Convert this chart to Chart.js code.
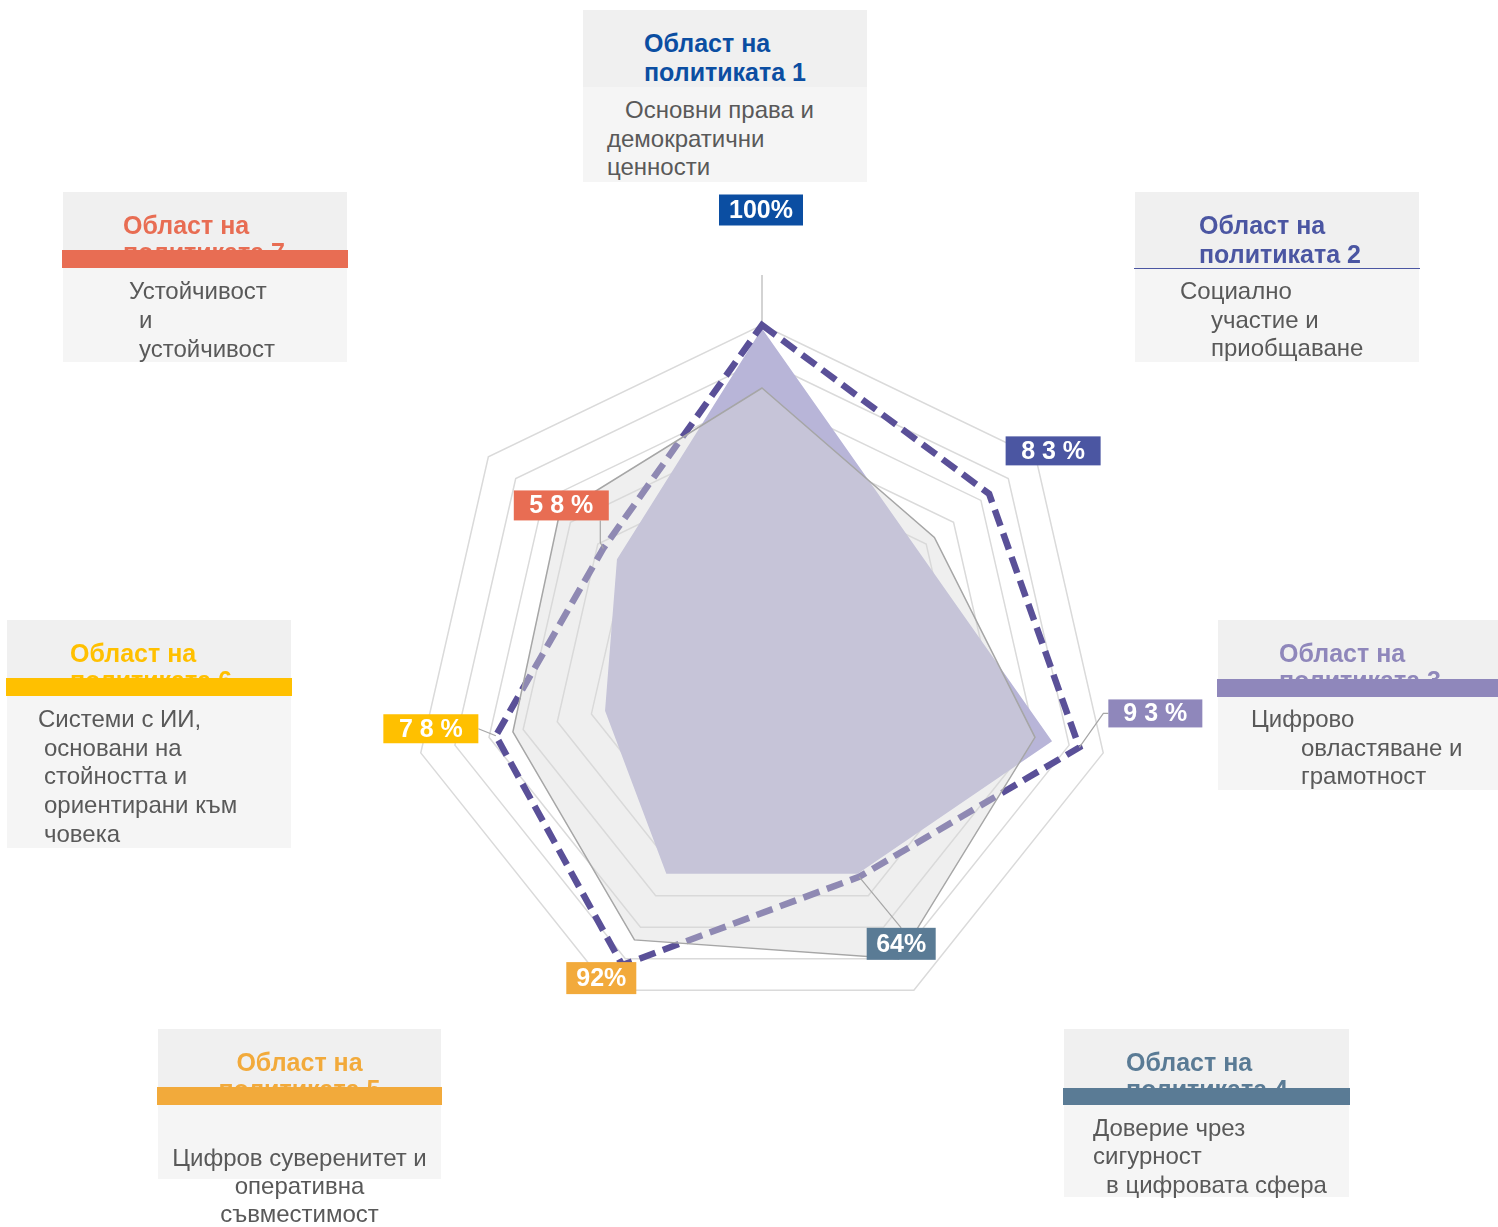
<!DOCTYPE html>
<html lang="bg">
<head>
<meta charset="utf-8">
<title>Области на политиката</title>
<script src="https://cdn.jsdelivr.net/npm/chart.js@4.4.1/dist/chart.umd.min.js"></script>
<style>
  html, body { margin: 0; padding: 0; background: #fff; }
  #page { position: relative; width: 1498px; height: 1227px; overflow: hidden;
          font-family: "Liberation Sans", Arial, sans-serif; }
  #chartWrap { position: absolute; left: 0; top: 0; width: 1498px; height: 1227px; }
  .card { position: absolute; }
  .card .head { position: absolute; left: 0; top: 0; width: 100%; background: #f0f0f0; }
  .card .body { position: absolute; left: 0; width: 100%; background: #f5f5f5; }
  .card .bar { position: absolute; left: -1px; right: -1px; }
  .t { position: absolute; white-space: nowrap; height: 29px; line-height: 29px; }
  .title { font-weight: bold; font-size: 25px; }
  .txt { font-size: 24px; color: #595959; }
</style>
</head>
<body>
<div id="page">
  <div id="chartWrap"><canvas id="radar"></canvas></div>
</div>
<script>
// categories (policy areas), clockwise from the top
const areaTitles = [
  ['Област на', 'политиката 1'],
  ['Област на', 'политиката 2'],
  ['Област на', 'политиката 3'],
  ['Област на', 'политиката 4'],
  ['Област на', 'политиката 5'],
  ['Област на', 'политиката 6'],
  ['Област на', 'политиката 7']
];
const areaTexts = [
  ['Основни права и', 'демократични', 'ценности'],
  ['Социално', 'участие и', 'приобщаване'],
  ['Цифрово', 'овластяване и', 'грамотност'],
  ['Доверие чрез', 'сигурност', 'в цифровата сфера'],
  ['Цифров суверенитет и', 'оперативна', 'съвместимост'],
  ['Системи с ИИ,', 'основани на', 'стойността и', 'ориентирани към', 'човека'],
  ['Устойчивост', 'и', 'устойчивост']
];

// series values (%)
const scores = [100, 83, 93, 64, 92, 78, 58];        // dashed line, labelled
const greySeries = [82, 63, 80, 90, 84, 73, 74];     // grey area
const lavenderSeries = [99, 57, 85, 63, 63, 46, 53]; // lavender area

const ringStep = 10;
const ringMax = 100;

// colours per area
const areaColors = ['#0b4ea2', '#4b56a2', '#8f87bb', '#5a7b95', '#f2aa3b', '#ffc000', '#e86d53'];

// ----- cards (HTML boxes around the chart) -----
// x,y,w = box; head = title strip height; bar = coloured strip height (1 = thin rule); body = body height
const cardLayout = [
  {x: 583, y: 10, w: 284, head: 77, bar: 0, body: 95, tx: 61, lines: [[42, 99], [24, 128], [24, 156]]},
  {x: 1135, y: 192, w: 284, head: 76, bar: 1, body: 93, tx: 64, lines: [[45, 98], [76, 127], [76, 155]]},
  {x: 1218, y: 620, w: 280, head: 59, bar: 18, body: 93, tx: 61, lines: [[33, 98], [83, 127], [83, 155]]},
  {x: 1064, y: 1029, w: 285, head: 59, bar: 17, body: 92, tx: 62, lines: [[29, 98], [29, 126], [42, 155]]},
  {x: 158, y: 1029, w: 283, head: 58, bar: 18, body: 74, tx: 'c', lines: [['c', 128], ['c', 156], ['c', 184]]},
  {x: 7, y: 620, w: 284, head: 58, bar: 18, body: 152, tx: 63, lines: [[31, 98], [37, 127], [37, 155], [37, 184], [37, 213]]},
  {x: 63, y: 192, w: 284, head: 58, bar: 18, body: 94, tx: 60, lines: [[66, 98], [76, 127], [76, 156]]}
];

const page = document.getElementById('page');
cardLayout.forEach((c, i) => {
  const card = document.createElement('div');
  card.className = 'card';
  card.style.cssText = `left:${c.x}px;top:${c.y}px;width:${c.w}px;height:${c.head + c.bar + c.body}px;`;
  const head = document.createElement('div');
  head.className = 'head';
  head.style.height = c.head + 'px';
  card.appendChild(head);
  const body = document.createElement('div');
  body.className = 'body';
  body.style.top = (c.head + c.bar) + 'px';
  body.style.height = c.body + 'px';
  card.appendChild(body);

  // thick bar hides most of the second title line
  const gap = c.bar > 1 ? 27 : 29;
  areaTitles[i].forEach((line, k) => {
    const t = document.createElement('div');
    t.className = 't title';
    t.textContent = line;
    t.style.color = areaColors[i];
    t.style.top = (33 + k * gap - 14.5) + 'px';
    if (c.tx === 'c') { t.style.left = '0'; t.style.width = '100%'; t.style.textAlign = 'center'; }
    else t.style.left = c.tx + 'px';
    card.appendChild(t);
  });
  if (c.bar > 0) {
    const bar = document.createElement('div');
    bar.className = 'bar';
    bar.style.top = c.head + 'px';
    bar.style.height = c.bar + 'px';
    bar.style.background = areaColors[i];
    card.appendChild(bar);
  }
  areaTexts[i].forEach((line, k) => {
    const [lx, cy] = c.lines[k];
    const t = document.createElement('div');
    t.className = 't txt';
    t.textContent = line;
    t.style.top = (cy - 14.5) + 'px';
    if (lx === 'c') { t.style.left = '0'; t.style.width = '100%'; t.style.textAlign = 'center'; }
    else t.style.left = lx + 'px';
    card.appendChild(t);
  });
  page.appendChild(card);
});

// ----- value labels on the dashed series -----
// box offset from the data point, box size, leader style
const labelStyle = [
  {dx: -1, dy: -115, w: 84, h: 31, spaced: false, leader: null},
  {dx: 64, dy: -43, w: 95, h: 29, spaced: true, leader: null},
  {dx: 76, dy: -34, w: 94, h: 28, spaced: true, leader: 'left'},
  {dx: 42, dy: 67, w: 69, h: 32, spaced: false, leader: 'top'},
  {dx: -21, dy: 13, w: 70, h: 32, spaced: false, leader: null},
  {dx: -65, dy: -7, w: 95, h: 29, spaced: true, leader: 'right'},
  {dx: -42, dy: -43, w: 95, h: 30, spaced: true, leader: 'bottom'}
];

const valueLabels = {
  id: 'valueLabels',
  afterDatasetsDraw(chart) {
    const meta = chart.getDatasetMeta(1);
    const ctx = chart.ctx;
    ctx.save();
    meta.data.forEach((pt, i) => {
      const s = labelStyle[i];
      const cx = pt.x + s.dx, cy = pt.y + s.dy;
      const l = cx - s.w / 2, t = cy - s.h / 2;
      // leader line
      if (s.leader) {
        ctx.beginPath();
        ctx.strokeStyle = '#a6a6a6';
        ctx.lineWidth = 1.2;
        if (s.leader === 'left') {
          ctx.moveTo(l, cy); ctx.lineTo(l - 5, cy); ctx.lineTo(pt.x, pt.y);
        } else if (s.leader === 'top') {
          ctx.moveTo(cx, t); ctx.lineTo(pt.x, pt.y);
        } else if (s.leader === 'right') {
          ctx.moveTo(l + s.w, cy); ctx.lineTo(pt.x, pt.y);
        } else if (s.leader === 'bottom') {
          ctx.moveTo(pt.x - 3, t + s.h); ctx.lineTo(pt.x - 3, pt.y - 6); ctx.lineTo(pt.x, pt.y);
        }
        ctx.stroke();
      }
      ctx.fillStyle = areaColors[i];
      ctx.fillRect(l, t, s.w, s.h);
      let txt = scores[i] + '%';
      if (s.spaced) txt = txt.split('').join(' ');
      ctx.fillStyle = '#ffffff';
      ctx.font = 'bold 25px "Liberation Sans", Arial, sans-serif';
      ctx.textAlign = 'center';
      ctx.textBaseline = 'middle';
      ctx.fillText(txt, cx, cy + 1);
    });
    ctx.restore();
  }
};

const ctx = document.getElementById('radar').getContext('2d');

new Chart(ctx, {
  type: 'radar',
  data: {
    labels: areaTitles.map(t => t.join(' ')),
    datasets: [
      {
        label: 'lavender',
        data: lavenderSeries,
        backgroundColor: '#b8b5d8',
        borderWidth: 0,
        fill: true,
        order: 3
      },
      {
        label: 'scores',
        data: scores,
        borderColor: '#5a5098',
        borderWidth: 6.5,
        borderDash: [17, 8],
        borderCapStyle: 'butt',
        borderJoinStyle: 'miter',
        fill: false,
        order: 2
      },
      {
        label: 'grey',
        data: greySeries,
        backgroundColor: 'rgba(217,217,217,0.42)',
        borderColor: '#a6a6a6',
        borderWidth: 1.5,
        fill: true,
        order: 1
      }
    ]
  },
  options: {
    responsive: true,
    maintainAspectRatio: false,
    devicePixelRatio: 1,
    animation: false,
    events: [],
    // square chart area centred where the radar sits
    layout: { padding: { left: 362, right: 336, top: 275, bottom: 152 } },
    elements: {
      point: { radius: 0 },
      line: { tension: 0 }
    },
    plugins: {
      legend: { display: false },
      tooltip: { enabled: false }
    },
    scales: {
      r: {
        min: 0,
        max: 800 / 7, // top axis runs a bit past the 100% ring
        ticks: { display: false, stepSize: ringStep },
        pointLabels: { display: false },
        grid: {
          color: c => (c.tick && c.tick.value <= ringMax ? '#dadada' : 'transparent'),
          lineWidth: 1.5
        },
        angleLines: {
          color: c => (c.index === 0 ? '#c4c4c4' : 'transparent'),
          lineWidth: 1.5
        }
      }
    }
  },
  plugins: [valueLabels]
});
</script>
</body>
</html>
